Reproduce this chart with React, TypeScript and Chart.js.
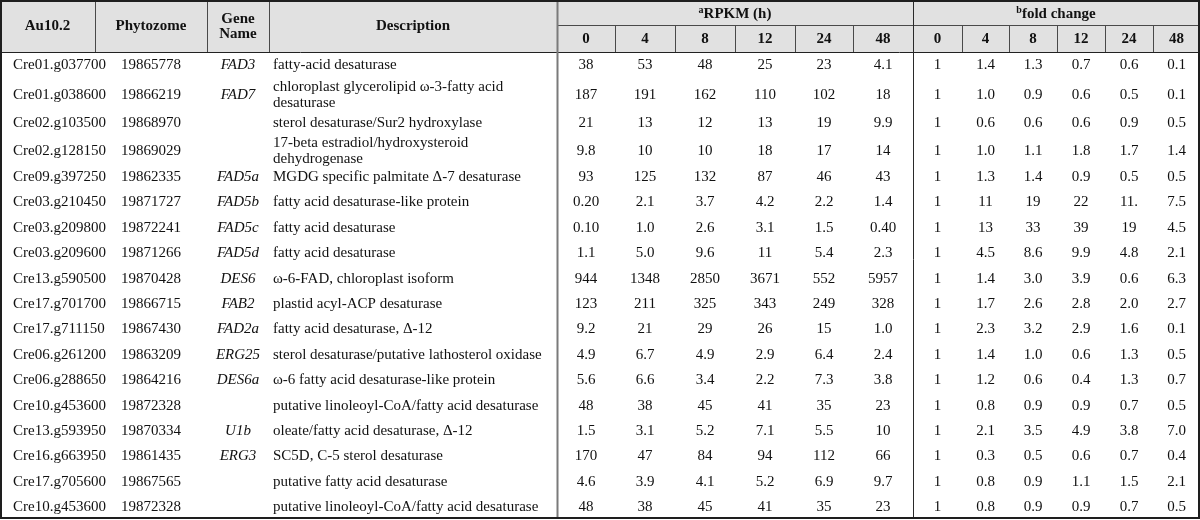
import React, { useEffect, useRef } from "react";
import { Chart, registerables } from "chart.js";

Chart.register(...registerables);

// ---------- DATA ----------
const AU_IDS = [
  "Cre01.g037700", "Cre01.g038600", "Cre02.g103500", "Cre02.g128150", "Cre09.g397250",
  "Cre03.g210450", "Cre03.g209800", "Cre03.g209600", "Cre13.g590500", "Cre17.g701700",
  "Cre17.g711150", "Cre06.g261200", "Cre06.g288650", "Cre10.g453600", "Cre13.g593950",
  "Cre16.g663950", "Cre17.g705600", "Cre10.g453600",
];
const PHYTOZOME_IDS = [
  "19865778", "19866219", "19868970", "19869029", "19862335", "19871727", "19872241",
  "19871266", "19870428", "19866715", "19867430", "19863209", "19864216", "19872328",
  "19870334", "19861435", "19867565", "19872328",
];
const GENE_NAMES = [
  "FAD3", "FAD7", "", "", "FAD5a", "FAD5b", "FAD5c", "FAD5d", "DES6", "FAB2", "FAD2a",
  "ERG25", "DES6a", "", "U1b", "ERG3", "", "",
];
const DESCRIPTIONS = [
  "fatty-acid desaturase",
  "chloroplast glycerolipid ω-3-fatty acid\ndesaturase",
  "sterol desaturase/Sur2 hydroxylase",
  "17-beta estradiol/hydroxysteroid\ndehydrogenase",
  "MGDG specific palmitate Δ-7 desaturase",
  "fatty acid desaturase-like protein",
  "fatty acid desaturase",
  "fatty acid desaturase",
  "ω-6-FAD, chloroplast isoform",
  "plastid acyl-ACP desaturase",
  "fatty acid desaturase, Δ-12",
  "sterol desaturase/putative lathosterol oxidase",
  "ω-6 fatty acid desaturase-like protein",
  "putative linoleoyl-CoA/fatty acid desaturase",
  "oleate/fatty acid desaturase, Δ-12",
  "SC5D, C-5 sterol desaturase",
  "putative fatty acid desaturase",
  "putative linoleoyl-CoA/fatty acid desaturase",
];
const TIME_POINTS = ["0", "4", "8", "12", "24", "48"];

const RPKM_0H = ["38", "187", "21", "9.8", "93", "0.20", "0.10", "1.1", "944", "123", "9.2", "4.9", "5.6", "48", "1.5", "170", "4.6", "48"];
const RPKM_4H = ["53", "191", "13", "10", "125", "2.1", "1.0", "5.0", "1348", "211", "21", "6.7", "6.6", "38", "3.1", "47", "3.9", "38"];
const RPKM_8H = ["48", "162", "12", "10", "132", "3.7", "2.6", "9.6", "2850", "325", "29", "4.9", "3.4", "45", "5.2", "84", "4.1", "45"];
const RPKM_12H = ["25", "110", "13", "18", "87", "4.2", "3.1", "11", "3671", "343", "26", "2.9", "2.2", "41", "7.1", "94", "5.2", "41"];
const RPKM_24H = ["23", "102", "19", "17", "46", "2.2", "1.5", "5.4", "552", "249", "15", "6.4", "7.3", "35", "5.5", "112", "6.9", "35"];
const RPKM_48H = ["4.1", "18", "9.9", "14", "43", "1.4", "0.40", "2.3", "5957", "328", "1.0", "2.4", "3.8", "23", "10", "66", "9.7", "23"];

const FOLD_0H = ["1", "1", "1", "1", "1", "1", "1", "1", "1", "1", "1", "1", "1", "1", "1", "1", "1", "1"];
const FOLD_4H = ["1.4", "1.0", "0.6", "1.0", "1.3", "11", "13", "4.5", "1.4", "1.7", "2.3", "1.4", "1.2", "0.8", "2.1", "0.3", "0.8", "0.8"];
const FOLD_8H = ["1.3", "0.9", "0.6", "1.1", "1.4", "19", "33", "8.6", "3.0", "2.6", "3.2", "1.0", "0.6", "0.9", "3.5", "0.5", "0.9", "0.9"];
const FOLD_12H = ["0.7", "0.6", "0.6", "1.8", "0.9", "22", "39", "9.9", "3.9", "2.8", "2.9", "0.6", "0.4", "0.9", "4.9", "0.6", "1.1", "0.9"];
const FOLD_24H = ["0.6", "0.5", "0.9", "1.7", "0.5", "11.", "19", "4.8", "0.6", "2.0", "1.6", "1.3", "1.3", "0.7", "3.8", "0.7", "1.5", "0.7"];
const FOLD_48H = ["0.1", "0.1", "0.5", "1.4", "0.5", "7.5", "4.5", "2.1", "6.3", "2.7", "0.1", "0.5", "0.7", "0.5", "7.0", "0.4", "2.1", "0.5"];

const RPKM_COLUMNS = [RPKM_0H, RPKM_4H, RPKM_8H, RPKM_12H, RPKM_24H, RPKM_48H];
const FOLD_COLUMNS = [FOLD_0H, FOLD_4H, FOLD_8H, FOLD_12H, FOLD_24H, FOLD_48H];

// ---------- LAYOUT (page units, mapped through the chart's scales) ----------
const W = 1200;
const H = 520;
const COL_EDGES = [0, 95, 207, 269, 557, 615, 675, 735, 795, 853, 913, 962, 1009, 1057, 1105, 1153, 1200];
const ROW_Y = [65, 95, 123, 151, 177, 202.4, 227.8, 253.2, 278.6, 304, 329.4, 354.8, 380.2, 405.6, 431, 456.4, 481.8, 507];
const HEADER_TOP = 1;
const HEADER_MID = 25;
const HEADER_BOTTOM = 52;
const TABLE_BOTTOM = 518;
const LINE_GAP = 15.5;
const FONT_FAMILY = '"Liberation Serif", "Times New Roman", serif';
const BODY_SIZE = 15;
const HEAD_SIZE = 15;

const colCenter = (i: number) => (COL_EDGES[i] + COL_EDGES[i + 1]) / 2;

type ColSpec = { texts: string[]; x: number; align: CanvasTextAlign; italic?: boolean };

const COLUMN_SPECS: ColSpec[] = [
  { texts: AU_IDS, x: 13, align: "left" },
  { texts: PHYTOZOME_IDS, x: colCenter(1), align: "center" },
  { texts: GENE_NAMES, x: colCenter(2), align: "center", italic: true },
  { texts: DESCRIPTIONS, x: 273, align: "left" },
  ...RPKM_COLUMNS.map((c, k) => ({ texts: c, x: colCenter(4 + k), align: "center" as CanvasTextAlign })),
  ...FOLD_COLUMNS.map((c, k) => ({ texts: c, x: colCenter(10 + k), align: "center" as CanvasTextAlign })),
];

const tablePlugin = {
  id: "tableDraw",
  afterDraw(chart: any) {
    const { ctx, scales } = chart;
    const xs = scales.x;
    const ys = scales.y;
    const X = (v: number) => xs.getPixelForValue(v);
    const Y = (v: number) => ys.getPixelForValue(v);
    const line = (x1: number, y1: number, x2: number, y2: number, color: string, w: number) => {
      ctx.save();
      ctx.strokeStyle = color;
      ctx.lineWidth = w;
      ctx.beginPath();
      ctx.moveTo(X(x1), Y(y1));
      ctx.lineTo(X(x2), Y(y2));
      ctx.stroke();
      ctx.restore();
    };

    ctx.save();
    // header background
    ctx.fillStyle = "#e1e1e1";
    ctx.fillRect(X(1), Y(HEADER_TOP), X(1199) - X(1), Y(HEADER_BOTTOM) - Y(HEADER_TOP));
    ctx.restore();

    const hdrLine = "#4a4a4a";
    // header full-height separators
    [95, 207, 269].forEach((e) => line(e + 0.5, HEADER_TOP, e + 0.5, HEADER_BOTTOM, hdrLine, 1));
    // sub column separators
    [615, 675, 735, 795, 853, 962, 1009, 1057, 1105, 1153].forEach((e) =>
      line(e + 0.5, HEADER_MID, e + 0.5, HEADER_BOTTOM, hdrLine, 1)
    );
    line(557, HEADER_MID + 0.5, 1199, HEADER_MID + 0.5, hdrLine, 1);
    // header bottom
    line(1, HEADER_BOTTOM + 0.5, 1199, HEADER_BOTTOM + 0.5, "#222", 1);
    // body/header group separators
    line(557.5, HEADER_TOP, 557.5, TABLE_BOTTOM, "#7a7a7a", 2);
    line(913.5, HEADER_TOP, 913.5, TABLE_BOTTOM, "#2a2a2a", 1);
    // outer border
    ctx.save();
    ctx.strokeStyle = "#1e1e1e";
    ctx.lineWidth = 2;
    ctx.strokeRect(X(1), Y(1), X(1199) - X(1), Y(TABLE_BOTTOM) - Y(1));
    ctx.restore();

    // header texts
    ctx.save();
    ctx.fillStyle = "#111";
    ctx.textBaseline = "middle";
    ctx.textAlign = "center";
    const bold = `bold ${HEAD_SIZE}px ${FONT_FAMILY}`;
    ctx.font = bold;
    const midHead = (HEADER_TOP + HEADER_BOTTOM) / 2;
    ctx.fillText("Au10.2", X(colCenter(0)), Y(midHead));
    ctx.fillText("Phytozome", X(colCenter(1)), Y(midHead));
    ctx.fillText("Gene", X(colCenter(2)), Y(19));
    ctx.fillText("Name", X(colCenter(2)), Y(34));
    ctx.fillText("Description", X(colCenter(3)), Y(midHead));
    const drawSup = (sup: string, main: string, cx: number, cy: number) => {
      ctx.font = `bold 10px ${FONT_FAMILY}`;
      const ws = ctx.measureText(sup).width;
      ctx.font = bold;
      const wm = ctx.measureText(main).width;
      const start = X(cx) - (ws + wm) / 2;
      ctx.textAlign = "left";
      ctx.font = `bold 10px ${FONT_FAMILY}`;
      ctx.fillText(sup, start, Y(cy) - 4);
      ctx.font = bold;
      ctx.fillText(main, start + ws, Y(cy));
      ctx.textAlign = "center";
    };
    drawSup("a", "RPKM (h)", (557 + 913) / 2, 14);
    drawSup("b", "fold change", (913 + 1199) / 2, 14);
    TIME_POINTS.forEach((t, k) => {
      ctx.fillText(t, X(colCenter(4 + k)), Y(39));
      ctx.fillText(t, X(colCenter(10 + k)), Y(39));
    });
    ctx.restore();

    // body cells: positioned from the dataset points laid out by the scales
    ctx.save();
    ctx.fillStyle = "#111";
    ctx.textBaseline = "middle";
    chart.data.datasets.forEach((ds: any, di: number) => {
      const meta = chart.getDatasetMeta(di);
      ctx.font = `${ds.italic ? "italic " : ""}${BODY_SIZE}px ${FONT_FAMILY}`;
      ctx.textAlign = ds.align;
      meta.data.forEach((pt: any, ri: number) => {
        const txt: string = ds.texts[ri];
        if (!txt) return;
        const lines = txt.split("\n");
        const off = ((lines.length - 1) * LINE_GAP) / 2;
        lines.forEach((ln, li) => {
          ctx.fillText(ln, pt.x, pt.y - off + li * LINE_GAP);
        });
      });
    });
    ctx.restore();
  },
};

export default function App() {
  const ref = useRef<HTMLCanvasElement | null>(null);
  useEffect(() => {
    if (!ref.current) return;
    const chart = new Chart(ref.current, {
      type: "scatter",
      data: {
        datasets: COLUMN_SPECS.map((c, i) => ({
          label: "col" + i,
          data: c.texts.map((_, r) => ({ x: c.x, y: ROW_Y[r] })),
          pointRadius: 0,
          pointHoverRadius: 0,
          texts: c.texts,
          align: c.align,
          italic: !!c.italic,
        })) as any,
      },
      options: {
        animation: false,
        responsive: false,
        maintainAspectRatio: false,
        layout: { padding: 0 },
        events: [],
        plugins: { legend: { display: false }, tooltip: { enabled: false } },
        scales: {
          x: { type: "linear", min: 0, max: W, display: false },
          y: { type: "linear", min: 0, max: H, reverse: true, display: false },
        },
      },
      plugins: [tablePlugin],
    });
    return () => chart.destroy();
  }, []);
  return (
    <div style={{ position: "fixed", left: 0, top: 0, width: W, height: H, background: "#fff" }}>
      <canvas ref={ref} width={W} height={H} style={{ width: W, height: H, display: "block" }} />
    </div>
  );
}
